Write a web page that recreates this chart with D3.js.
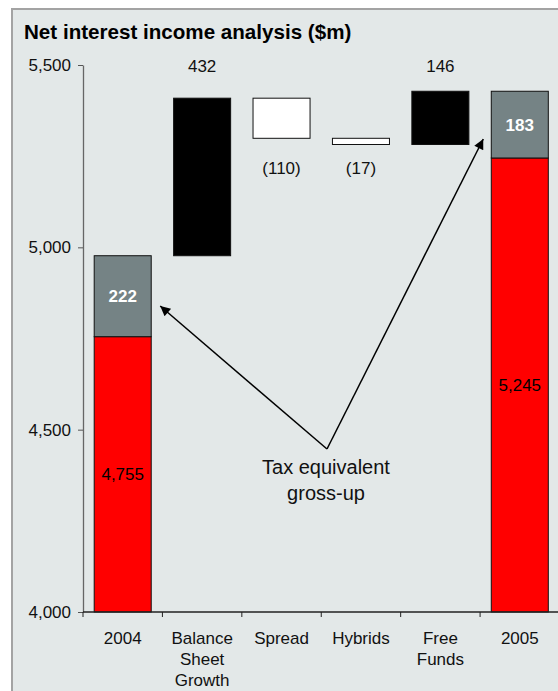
<!DOCTYPE html>
<html>
<head>
<meta charset="utf-8">
<script src="https://cdn.jsdelivr.net/npm/d3@7"></script>
<style>
  html, body { margin: 0; padding: 0; background: #fff; }
  svg { display: block; font-family: "Liberation Sans", Arial, sans-serif; }
</style>
</head>
<body>
<svg id="chart" width="558" height="691"></svg>
<script>
// Categories along the bottom (multi-line labels)
const categories = ["2004", "Balance Sheet Growth", "Spread", "Hybrids", "Free Funds", "2005"];
const categoryLines = [["2004"], ["Balance", "Sheet", "Growth"], ["Spread"], ["Hybrids"], ["Free", "Funds"], ["2005"]];

// Year-end totals: reported net interest income plus tax equivalent gross-up
const totalYears = ["2004", "2005"];
const reportedNII = [4755, 5245];
const taxGrossUp = [222, 183];

// Movements between the two years
const stepCategories = ["Balance Sheet Growth", "Spread", "Hybrids", "Free Funds"];
const stepValues = [432, -110, -17, 146];

// Value axis
const yTicks = [4000, 4500, 5000, 5500];

const svg = d3.select("#chart");
const W = 558, H = 691;

// Panel background and frame
svg.append("rect")
  .attr("x", 12).attr("y", 9).attr("width", W).attr("height", H)
  .attr("fill", "#e3e8e8").attr("stroke", "#a3a3a3").attr("stroke-width", 2);

svg.append("text")
  .attr("x", 24).attr("y", 39)
  .attr("font-size", 20.6).attr("font-weight", "bold").attr("fill", "#000")
  .text("Net interest income analysis ($m)");

const x = d3.scaleBand().domain(categories).range([83, 559.5])
  .paddingInner(0.282).paddingOuter(0.141);
const y = d3.scaleLinear().domain([4000, 5500]).range([612, 65]);
const step = x.step();
const bw = x.bandwidth();

// Build waterfall segments
const bars = [];
totalYears.forEach((yr, i) => {
  bars.push({cat: yr, y0: 4000, y1: reportedNII[i], fill: "#ff0000", label: d3.format(",")(reportedNII[i]), labelColor: "#000", bold: false});
  bars.push({cat: yr, y0: reportedNII[i], y1: reportedNII[i] + taxGrossUp[i], fill: "#758385", label: String(taxGrossUp[i]), labelColor: "#fff", bold: true});
});
let running = reportedNII[0] + taxGrossUp[0];
const steps = stepCategories.map((c, i) => {
  const v = stepValues[i];
  const s = {cat: c, start: running, end: running + v, v};
  running += v;
  return s;
});

const g = svg.append("g");

// Total bars (stacked)
g.selectAll("rect.total").data(bars).join("rect")
  .attr("class", "total")
  .attr("x", d => x(d.cat)).attr("width", bw)
  .attr("y", d => y(d.y1)).attr("height", d => y(d.y0) - y(d.y1))
  .attr("fill", d => d.fill).attr("stroke", "#111").attr("stroke-width", 1);

g.selectAll("text.inlab").data(bars).join("text")
  .attr("class", "inlab")
  .attr("x", d => x(d.cat) + bw / 2)
  .attr("y", d => (y(d.y0) + y(d.y1)) / 2)
  .attr("dy", "0.35em")
  .attr("text-anchor", "middle").attr("font-size", 17)
  .attr("font-weight", d => d.bold ? "bold" : "normal")
  .attr("fill", d => d.labelColor)
  .text(d => d.label);

// Floating step bars
g.selectAll("rect.step").data(steps).join("rect")
  .attr("class", "step")
  .attr("x", d => x(d.cat)).attr("width", bw)
  .attr("y", d => y(Math.max(d.start, d.end)))
  .attr("height", d => Math.abs(y(d.start) - y(d.end)))
  .attr("fill", d => d.v >= 0 ? "#000" : "#fff")
  .attr("stroke", "#111").attr("stroke-width", 1);

// Step labels: increases in a row above the chart, decreases in a row beneath the lowest decrease
const negLow = d3.min(steps.filter(d => d.v < 0), d => Math.min(d.start, d.end));
g.selectAll("text.steplab").data(steps).join("text")
  .attr("class", "steplab")
  .attr("x", d => x(d.cat) + bw / 2)
  .attr("y", d => d.v >= 0 ? y(y.domain()[1]) + 7 : y(negLow) + 30)
  .attr("text-anchor", "middle").attr("font-size", 17).attr("fill", "#111")
  .text(d => d.v >= 0 ? d3.format(",")(d.v) : "(" + d3.format(",")(-d.v) + ")");

// Y axis
const yAxis = g.append("g").attr("transform", "translate(83,0)")
  .call(d3.axisLeft(y).tickValues(yTicks).tickFormat(d3.format(",")).tickSize(5).tickSizeOuter(0).tickPadding(7));
yAxis.select(".domain").attr("stroke", "#666").attr("stroke-width", 1.3);
yAxis.selectAll(".tick line").attr("stroke", "#555");
yAxis.selectAll(".tick text").attr("font-size", 17).attr("fill", "#111")
  .attr("font-family", "'Liberation Sans', Arial, sans-serif");

// X axis: line, boundary ticks, multi-line category labels
const x0 = x.range()[0], x1 = x.range()[1];
g.append("line").attr("x1", x0).attr("x2", x1).attr("y1", y(4000)).attr("y2", y(4000))
  .attr("stroke", "#222").attr("stroke-width", 1.3);
const bounds = d3.range(categories.length + 1).map(i => x0 + i * step);
g.selectAll("line.xt").data(bounds).join("line")
  .attr("class", "xt")
  .attr("x1", d => d).attr("x2", d => d)
  .attr("y1", y(4000)).attr("y2", y(4000) + 5)
  .attr("stroke", "#222").attr("stroke-width", 1);

const xl = g.selectAll("text.xl").data(categories).join("text")
  .attr("class", "xl")
  .attr("x", d => x(d) + bw / 2)
  .attr("y", y(4000) + 32)
  .attr("text-anchor", "middle").attr("font-size", 17).attr("fill", "#111");
xl.selectAll("tspan").data((d, i) => categoryLines[i]).join("tspan")
  .attr("x", function () { return this.parentNode.getAttribute("x"); })
  .attr("dy", (d, i) => i === 0 ? 0 : 21)
  .text(d => d);

// Annotation: tax equivalent gross-up arrows
const defs = svg.append("defs");
defs.append("marker").attr("id", "ah")
  .attr("viewBox", "0 0 10 10").attr("refX", 10).attr("refY", 5)
  .attr("markerUnits", "userSpaceOnUse").attr("markerWidth", 12).attr("markerHeight", 10)
  .attr("orient", "auto")
  .append("path").attr("d", "M0,0 L10,5 L0,10 Z").attr("fill", "#000");

const vertex = [327, 449];
const tipLeft = [x("2004") + bw + 9, y(4839)];
const tipRight = [x("2005") - 8, y(5297)];
[tipLeft, tipRight].forEach(t => {
  g.append("line")
    .attr("x1", vertex[0]).attr("y1", vertex[1])
    .attr("x2", t[0]).attr("y2", t[1])
    .attr("stroke", "#000").attr("stroke-width", 1.5)
    .attr("marker-end", "url(#ah)");
});

const ann = g.append("text").attr("x", 326).attr("y", 474)
  .attr("text-anchor", "middle").attr("font-size", 20).attr("fill", "#111");
["Tax equivalent", "gross-up"].forEach((t, i) => {
  ann.append("tspan").attr("x", 326).attr("dy", i === 0 ? 0 : 26).text(t);
});
</script>
</body>
</html>
